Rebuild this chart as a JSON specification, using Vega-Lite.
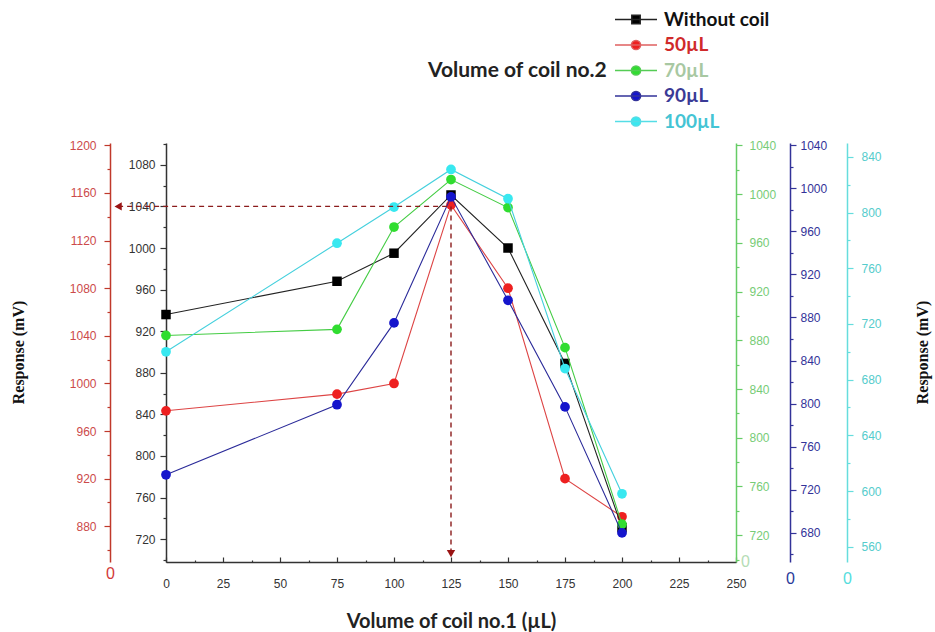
{
  "$schema": "https://vega.github.io/schema/vega-lite/v6.json",
  "width": 570,
  "height": 419,
  "autosize": {"type": "none"},
  "padding": {"left": 166, "top": 143, "right": 199, "bottom": 70},
  "background": "white",
  "config": {
    "view": {"stroke": null},
    "axis": {"grid": false, "labelFont": "Liberation Sans", "labelFontSize": 12, "domainWidth": 1.5, "tickWidth": 1.2}
  },
  "data": {
    "values": [
      {"series": "Without coil", "vol": 0, "resp": 936},
      {"series": "Without coil", "vol": 75, "resp": 968},
      {"series": "Without coil", "vol": 100, "resp": 995},
      {"series": "Without coil", "vol": 125, "resp": 1051},
      {"series": "Without coil", "vol": 150, "resp": 1000},
      {"series": "Without coil", "vol": 175, "resp": 889},
      {"series": "Without coil", "vol": 200, "resp": 731},
      {"series": "50µL", "vol": 0, "resp": 977},
      {"series": "50µL", "vol": 75, "resp": 991},
      {"series": "50µL", "vol": 100, "resp": 1000},
      {"series": "50µL", "vol": 125, "resp": 1150},
      {"series": "50µL", "vol": 150, "resp": 1080},
      {"series": "50µL", "vol": 175, "resp": 920},
      {"series": "50µL", "vol": 200, "resp": 888},
      {"series": "70µL", "vol": 0, "resp": 884},
      {"series": "70µL", "vol": 75, "resp": 889},
      {"series": "70µL", "vol": 100, "resp": 973},
      {"series": "70µL", "vol": 125, "resp": 1012},
      {"series": "70µL", "vol": 150, "resp": 989},
      {"series": "70µL", "vol": 175, "resp": 874},
      {"series": "70µL", "vol": 200, "resp": 729},
      {"series": "90µL", "vol": 0, "resp": 734},
      {"series": "90µL", "vol": 75, "resp": 799},
      {"series": "90µL", "vol": 100, "resp": 875},
      {"series": "90µL", "vol": 125, "resp": 992},
      {"series": "90µL", "vol": 150, "resp": 896},
      {"series": "90µL", "vol": 175, "resp": 797},
      {"series": "90µL", "vol": 200, "resp": 680},
      {"series": "100µL", "vol": 0, "resp": 700},
      {"series": "100µL", "vol": 75, "resp": 778},
      {"series": "100µL", "vol": 100, "resp": 804},
      {"series": "100µL", "vol": 125, "resp": 831},
      {"series": "100µL", "vol": 150, "resp": 810},
      {"series": "100µL", "vol": 175, "resp": 688},
      {"series": "100µL", "vol": 200, "resp": 598}
    ]
  },
  "encoding": {
    "x": {
      "field": "vol",
      "type": "quantitative",
      "scale": {"domain": [0, 250], "nice": false, "zero": false},
      "axis": {
        "values": [0, 12.5, 25, 37.5, 50, 62.5, 75, 87.5, 100, 112.5, 125, 137.5, 150, 162.5, 175, 187.5, 200, 212.5, 225, 237.5, 250],
        "labelExpr": "datum.value % 25 === 0 ? datum.label : ''",
        "tickSize": {"condition": {"test": "datum.value % 25 === 0", "value": -5}, "value": -2},
        "labelPadding": 21,
        "labelFlush": false,
        "labelColor": "#333333",
        "domainColor": "#333333",
        "tickColor": "#333333",
        "title": "Volume of coil no.1 (µL)",
        "titleFont": "Lato",
        "titleFontSize": 20,
        "titleFontWeight": "bold",
        "titleColor": "#222222",
        "titlePadding": 22
      }
    }
  },
  "layer": [
    {
      "transform": [{"filter": "datum.series === '50µL'"}],
      "encoding": {
        "y": {
          "field": "resp", "type": "quantitative",
          "scale": {"domain": [850, 1202], "nice": false, "zero": false},
          "axis": {
            "orient": "left", "offset": 56, "format": "d",
            "values": [860, 880, 900, 920, 940, 960, 980, 1000, 1020, 1040, 1060, 1080, 1100, 1120, 1140, 1160, 1180, 1200],
            "labelExpr": "datum.value % 40 === 0 ? datum.label : ''",
            "tickSize": {"condition": {"test": "datum.value % 40 === 0", "value": 6}, "value": 3},
            "labelPadding": 8,
            "domainColor": "#c0392b", "tickColor": "#c0392b", "labelColor": "#cc4a4a",
            "title": "0", "titleAngle": 0, "titleX": 0, "titleY": 430,
            "titleAlign": "center", "titleBaseline": "middle",
            "titleFont": "Liberation Sans", "titleFontSize": 16, "titleFontWeight": "normal", "titleColor": "#d23a3a"
          }
        }
      },
      "layer": [
        {"mark": {"type": "line", "color": "#dd4444", "strokeWidth": 1.1}},
        {
          "mark": {"type": "point", "shape": "circle", "filled": true, "size": 95, "opacity": 1},
          "encoding": {
            "color": {
              "field": "series", "type": "nominal",
              "scale": {
                "domain": ["Without coil", "50µL", "70µL", "90µL", "100µL"],
                "range": ["#000000", "#ee2020", "#30dd30", "#1515cc", "#38e8f0"]
              },
              "legend": {
                "orient": "none", "legendX": 262, "legendY": -136,
                "title": "Volume of coil no.2",
                "titleOrient": "left", "titleAnchor": "middle", "titleBaseline": "middle",
                "titleFont": "Lato", "titleFontSize": 21, "titleFontWeight": "bold", "titleColor": "#222222",
                "titlePadding": 6,
                "labelFont": "Lato", "labelFontSize": 19, "labelFontWeight": "bold",
                "labelOffset": 6,
                "symbolSize": 1764,
                "symbolStrokeWidth": 1.5,
                "clipHeight": 25,
                "rowPadding": 0.5,
                "encoding": {
                  "symbols": {
                    "shape": {"condition": {"test": "datum.value === 'Without coil'", "value": "M-1,0H1M-0.2,-0.2H0.2V0.2H-0.2Z"}, "value": "M-1,0H1M-0.22,0A0.22,0.22 0 1,1 0.22,0A0.22,0.22 0 1,1 -0.22,0Z"},
                    "strokeWidth": {"value": 1.5},
                    "opacity": {"value": 1},
                    "fill": {"condition": [
                      {"test": "datum.value === 'Without coil'", "value": "#000000"},
                      {"test": "datum.value === '50µL'", "value": "#ee2020"},
                      {"test": "datum.value === '70µL'", "value": "#30dd30"},
                      {"test": "datum.value === '90µL'", "value": "#1515cc"}
                    ], "value": "#38e8f0"},
                    "stroke": {"condition": [
                      {"test": "datum.value === 'Without coil'", "value": "#222222"},
                      {"test": "datum.value === '50µL'", "value": "#e06060"},
                      {"test": "datum.value === '70µL'", "value": "#55cc55"},
                      {"test": "datum.value === '90µL'", "value": "#333399"}
                    ], "value": "#55dde6"}
                  },
                  "labels": {
                    "fill": {"condition": [
                      {"test": "datum.value === 'Without coil'", "value": "#111111"},
                      {"test": "datum.value === '50µL'", "value": "#d02a2a"},
                      {"test": "datum.value === '70µL'", "value": "#a8c8a2"},
                      {"test": "datum.value === '90µL'", "value": "#3a3a96"}
                    ], "value": "#44c4d4"}
                  }
                }
              }
            }
          }
        }
      ]
    },
    {
      "transform": [{"filter": "datum.series === 'Without coil'"}],
      "encoding": {
        "y": {
          "field": "resp", "type": "quantitative",
          "scale": {"domain": [698, 1101], "nice": false, "zero": false},
          "axis": {
            "orient": "left", "offset": 0, "format": "d",
            "values": [700, 720, 740, 760, 780, 800, 820, 840, 860, 880, 900, 920, 940, 960, 980, 1000, 1020, 1040, 1060, 1080, 1100],
            "labelExpr": "datum.value % 40 === 0 ? datum.label : ''",
            "tickSize": {"condition": {"test": "datum.value % 40 === 0", "value": 6}, "value": 3},
            "labelPadding": 5,
            "domainColor": "#333333", "tickColor": "#333333", "labelColor": "#333333",
            "title": "Response (mV)", "titleAngle": 270, "titleX": -148, "titleY": 209,
            "titleAlign": "center", "titleBaseline": "middle",
            "titleFont": "Liberation Serif", "titleFontSize": 16, "titleFontWeight": "bold", "titleColor": "#111111"
          }
        }
      },
      "layer": [
        {"mark": {"type": "line", "color": "#222222", "strokeWidth": 1.1}},
        {
          "mark": {"type": "point", "shape": "square", "filled": true, "size": 90, "opacity": 1},
          "encoding": {"color": {"field": "series", "type": "nominal"}}
        }
      ]
    },
    {
      "transform": [{"filter": "datum.series === '70µL'"}],
      "encoding": {
        "y": {
          "field": "resp", "type": "quantitative",
          "scale": {"domain": [698, 1042], "nice": false, "zero": false},
          "axis": {
            "orient": "right", "offset": 0, "format": "d",
            "values": [700, 720, 740, 760, 780, 800, 820, 840, 860, 880, 900, 920, 940, 960, 980, 1000, 1020, 1040],
            "labelExpr": "datum.value % 40 === 0 ? datum.label : ''",
            "tickSize": {"condition": {"test": "datum.value % 40 === 0", "value": 6}, "value": 3},
            "labelPadding": 7,
            "domainColor": "#66cc66", "tickColor": "#66cc66", "labelColor": "#77cc77",
            "title": "0", "titleAngle": 0, "titleX": 9, "titleY": 418,
            "titleAlign": "center", "titleBaseline": "middle",
            "titleFont": "Liberation Sans", "titleFontSize": 16, "titleFontWeight": "normal", "titleColor": "#b5dcb5"
          }
        }
      },
      "layer": [
        {"mark": {"type": "line", "color": "#44cc44", "strokeWidth": 1.1}},
        {
          "mark": {"type": "point", "shape": "circle", "filled": true, "size": 95, "opacity": 1},
          "encoding": {"color": {"field": "series", "type": "nominal"}}
        }
      ]
    },
    {
      "transform": [{"filter": "datum.series === '90µL'"}],
      "encoding": {
        "y": {
          "field": "resp", "type": "quantitative",
          "scale": {"domain": [653, 1042], "nice": false, "zero": false},
          "axis": {
            "orient": "right", "offset": 54, "format": "d",
            "values": [660, 680, 700, 720, 740, 760, 780, 800, 820, 840, 860, 880, 900, 920, 940, 960, 980, 1000, 1020, 1040],
            "labelExpr": "datum.value % 40 === 0 ? datum.label : ''",
            "tickSize": {"condition": {"test": "datum.value % 40 === 0", "value": 6}, "value": 3},
            "labelPadding": 4,
            "domainColor": "#333399", "tickColor": "#333399", "labelColor": "#333399",
            "title": "0", "titleAngle": 0, "titleX": 0, "titleY": 435,
            "titleAlign": "center", "titleBaseline": "middle",
            "titleFont": "Liberation Sans", "titleFontSize": 16, "titleFontWeight": "normal", "titleColor": "#2a3a9a"
          }
        }
      },
      "layer": [
        {"mark": {"type": "line", "color": "#2a2a99", "strokeWidth": 1.1}},
        {
          "mark": {"type": "point", "shape": "circle", "filled": true, "size": 95, "opacity": 1},
          "encoding": {"color": {"field": "series", "type": "nominal"}}
        }
      ]
    },
    {
      "transform": [{"filter": "datum.series === '100µL'"}],
      "encoding": {
        "y": {
          "field": "resp", "type": "quantitative",
          "scale": {"domain": [549, 850], "nice": false, "zero": false},
          "axis": {
            "orient": "right", "offset": 111, "format": "d",
            "values": [560, 580, 600, 620, 640, 660, 680, 700, 720, 740, 760, 780, 800, 820, 840],
            "labelExpr": "datum.value % 40 === 0 ? datum.label : ''",
            "tickSize": {"condition": {"test": "datum.value % 40 === 0", "value": 6}, "value": 3},
            "labelPadding": 8,
            "domainColor": "#66dddd", "tickColor": "#66dddd", "labelColor": "#55cccc",
            "title": "0", "titleAngle": 0, "titleX": 0, "titleY": 435,
            "titleAlign": "center", "titleBaseline": "middle",
            "titleFont": "Liberation Sans", "titleFontSize": 16, "titleFontWeight": "normal", "titleColor": "#55dddd"
          }
        }
      },
      "layer": [
        {"mark": {"type": "line", "color": "#44d0dd", "strokeWidth": 1.1}},
        {
          "mark": {"type": "point", "shape": "circle", "filled": true, "size": 95, "opacity": 1},
          "encoding": {"color": {"field": "series", "type": "nominal"}}
        }
      ]
    },
    {
      "data": {
        "values": [
          {"vol": -21, "vol2": 125, "resp": 1040, "resp2": 1040, "kind": "h"},
          {"vol": 125, "vol2": 125, "resp": 1040, "resp2": 706, "kind": "v"}
        ]
      },
      "encoding": {
        "y": {
          "field": "resp", "type": "quantitative",
          "scale": {"domain": [698, 1101], "nice": false, "zero": false},
          "axis": {
            "orient": "right", "offset": 0,
            "domain": false, "ticks": false, "labels": false,
            "title": "Response (mV)", "titleAngle": 270, "titleX": 186, "titleY": 209,
            "titleAlign": "center", "titleBaseline": "middle",
            "titleFont": "Liberation Serif", "titleFontSize": 16, "titleFontWeight": "bold", "titleColor": "#111111"
          }
        }
      },
      "layer": [
        {
          "mark": {"type": "rule", "color": "#8b1c1c", "strokeWidth": 1.4, "strokeDash": [5, 4]},
          "encoding": {"x2": {"field": "vol2"}, "y2": {"field": "resp2"}}
        },
        {
          "transform": [{"filter": "datum.kind === 'h'"}],
          "mark": {"type": "point", "shape": "triangle-left", "filled": true, "size": 70, "color": "#9a1414", "opacity": 1}
        },
        {
          "transform": [{"filter": "datum.kind === 'v'"}],
          "mark": {"type": "point", "shape": "triangle-down", "filled": true, "size": 70, "color": "#9a1414", "opacity": 1},
          "encoding": {"y": {"field": "resp2", "type": "quantitative"}}
        }
      ]
    }
  ],
  "resolve": {"scale": {"y": "independent"}}
}
